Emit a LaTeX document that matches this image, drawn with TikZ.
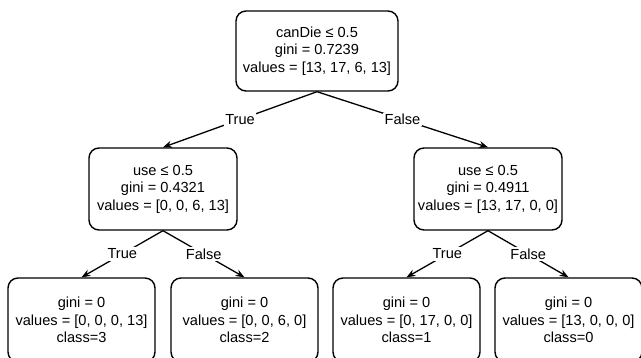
\documentclass[tikz,border=0pt]{standalone}
\usepackage{fontspec}
\setmainfont{Liberation Sans}
\usetikzlibrary{arrows.meta}
\begin{document}
\begin{tikzpicture}[x=1pt,y=-1pt,
  treenode/.style={draw, line width=1.4pt, rounded corners=10pt, align=center,
    font=\fontsize{14.6}{17.5}\selectfont, inner sep=0pt},
  splitnode/.style={treenode, minimum width=148pt, minimum height=82pt},
  leafnode/.style={treenode, minimum width=147pt, minimum height=84pt},
  edgelabel/.style={fill=white, inner sep=1.5pt, font=\fontsize{14.6}{17.5}\selectfont},
  branch/.style={line width=1.3pt, -{Stealth[length=9pt,width=7pt]}}]
\useasboundingbox (0,0) rectangle (641,357);
\clip (0,0) rectangle (641,357);

% root split
\node[treenode, minimum width=162pt, minimum height=80pt] (root) at (317,51)
  {canDie ≤ 0.5\\gini = 0.7239\\values = [13, 17, 6, 13]};

% second level splits
\node[splitnode] (left) at (163,189) {use ≤ 0.5\\gini = 0.4321\\values = [0, 0, 6, 13]};
\node[splitnode] (right) at (488,189) {use ≤ 0.5\\gini = 0.4911\\values = [13, 17, 0, 0]};

% leaves
\node[leafnode] (ll) at (81.5,320) {gini = 0\\values = [0, 0, 0, 13]\\class=3};
\node[leafnode] (lr) at (244.5,320) {gini = 0\\values = [0, 0, 6, 0]\\class=2};
\node[leafnode] (rl) at (406.5,320) {gini = 0\\values = [0, 17, 0, 0]\\class=1};
\node[leafnode] (rr) at (568.5,320) {gini = 0\\values = [13, 0, 0, 0]\\class=0};

% branches
\draw[branch] (root.south) -- node[edgelabel] {True} (left.north);
\draw[branch] (root.south) -- node[edgelabel] {False} (right.north);
\draw[branch] (left.south) -- node[edgelabel] {True} (ll.north);
\draw[branch] (left.south) -- node[edgelabel] {False} (lr.north);
\draw[branch] (right.south) -- node[edgelabel] {True} (rl.north);
\draw[branch] (right.south) -- node[edgelabel] {False} (rr.north);
\end{tikzpicture}
\end{document}
